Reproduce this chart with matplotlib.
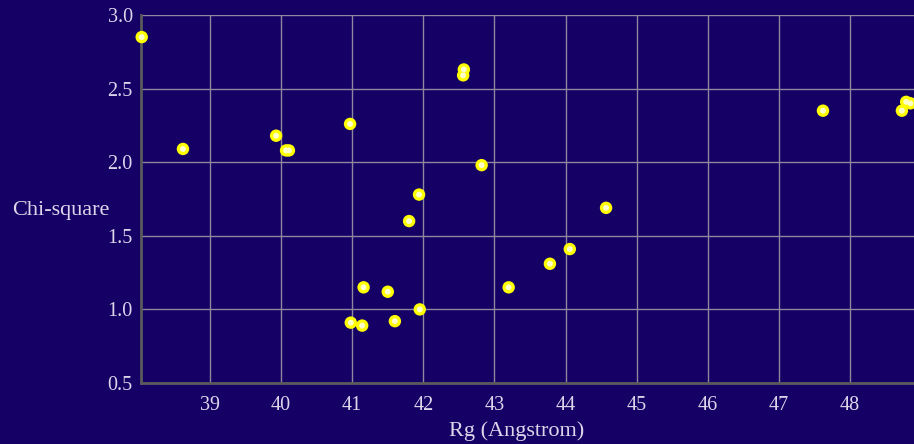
import matplotlib.pyplot as plt

# Rg (Angstrom) vs Chi-square
rg = [38.04, 38.62, 39.93, 40.07, 40.11, 40.97, 42.56, 42.57, 42.82, 41.94,
      41.80, 41.16, 41.50, 40.98, 41.14, 41.60, 41.95, 43.20, 43.78, 44.06,
      44.57, 47.62, 48.73, 48.79, 48.85]
chi = [2.85, 2.09, 2.18, 2.08, 2.08, 2.26, 2.59, 2.63, 1.98, 1.78,
       1.60, 1.15, 1.12, 0.91, 0.89, 0.92, 1.00, 1.15, 1.31, 1.41,
       1.69, 2.35, 2.35, 2.41, 2.40]

xticks = [39, 40, 41, 42, 43, 44, 45, 46, 47, 48]
yticks = [0.5, 1.0, 1.5, 2.0, 2.5, 3.0]

BG = "#150066"
TXT = "#dcd6ea"

plt.rcParams['font.family'] = ['Liberation Serif', 'DejaVu Serif']

fig = plt.figure(figsize=(9.14, 4.44), dpi=100, facecolor=BG)
ax = fig.add_axes([141 / 914, 1 - 383 / 444, (914 - 141) / 914, (383 - 15) / 444])
ax.set_facecolor(BG)

ax.set_xlim(38.03, 48.9)
ax.set_ylim(0.5, 3.0)
ax.set_xticks(xticks)
ax.set_yticks(yticks)
ax.set_yticklabels([f"{v:.1f}" for v in yticks])
ax.grid(True, color="#8c889e", linewidth=1)
ax.set_axisbelow(True)
ax.tick_params(length=0, labelsize=14.5, colors=TXT)
ax.tick_params(axis="x", pad=9)
ax.tick_params(axis="y", pad=6)

for side in ["top", "right"]:
    ax.spines[side].set_visible(False)
for side in ["left", "bottom"]:
    ax.spines[side].set_color("#5a5a5a")
    ax.spines[side].set_linewidth(2)

ax.scatter(rg, chi, s=80, color="#ffff00", edgecolors="none", zorder=3, clip_on=False)
ax.scatter(rg, chi, s=18, color="#ffffcc", edgecolors="none", zorder=4, clip_on=False)

ax.set_xlabel("Rg (Angstrom)", fontsize=16, color=TXT)
ax.xaxis.set_label_coords((517 - 141) / 773, -38 / 368)
fig.text(12 / 914, 1 - 210 / 444, "Chi-square", fontsize=16, color=TXT,
         ha="left", va="center")

fig.savefig("out.png", dpi=100, facecolor=BG)
